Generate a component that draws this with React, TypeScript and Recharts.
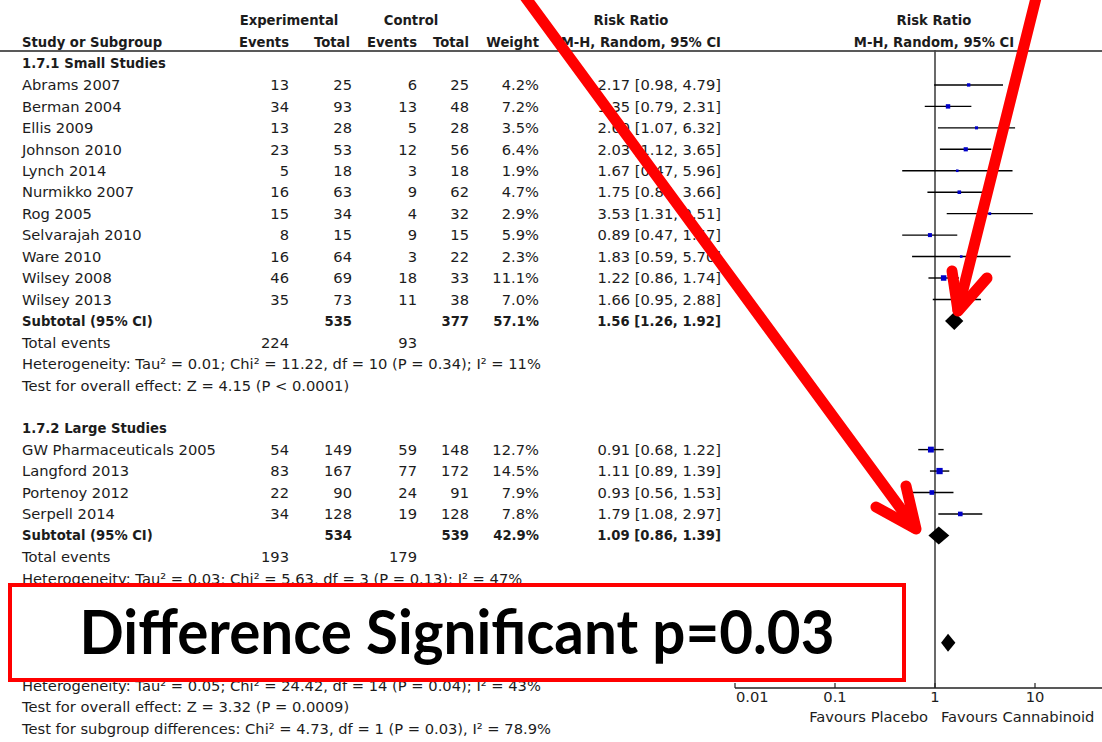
import React from "react";
import {
  ComposedChart,
  ErrorBar,
  ReferenceLine,
  Scatter,
  XAxis,
  YAxis,
} from "recharts";

// ---- study level data ----
const STUDIES = [
  "Abrams 2007",
  "Berman 2004",
  "Ellis 2009",
  "Johnson 2010",
  "Lynch 2014",
  "Nurmikko 2007",
  "Rog 2005",
  "Selvarajah 2010",
  "Ware 2010",
  "Wilsey 2008",
  "Wilsey 2013",
  "GW Pharmaceuticals 2005",
  "Langford 2013",
  "Portenoy 2012",
  "Serpell 2014",
];
const STUDY_GROUP = [0, 0, 0, 0, 0, 0, 0, 0, 0, 0, 0, 1, 1, 1, 1];
const EXP_EVENTS = [13, 34, 13, 23, 5, 16, 15, 8, 16, 46, 35, 54, 83, 22, 34];
const EXP_TOTAL = [25, 93, 28, 53, 18, 63, 34, 15, 64, 69, 73, 149, 167, 90, 128];
const CTRL_EVENTS = [6, 13, 5, 12, 3, 9, 4, 9, 3, 18, 11, 59, 77, 24, 19];
const CTRL_TOTAL = [25, 48, 28, 56, 18, 62, 32, 15, 22, 33, 38, 148, 172, 91, 128];
const WEIGHT = [4.2, 7.2, 3.5, 6.4, 1.9, 4.7, 2.9, 5.9, 2.3, 11.1, 7.0, 12.7, 14.5, 7.9, 7.8];
const RR = [2.17, 1.35, 2.6, 2.03, 1.67, 1.75, 3.53, 0.89, 1.83, 1.22, 1.66, 0.91, 1.11, 0.93, 1.79];
const RR_LO = [0.98, 0.79, 1.07, 1.12, 0.47, 0.84, 1.31, 0.47, 0.59, 0.86, 0.95, 0.68, 0.89, 0.56, 1.08];
const RR_HI = [4.79, 2.31, 6.32, 3.65, 5.96, 3.66, 9.51, 1.67, 5.7, 1.74, 2.88, 1.22, 1.39, 1.53, 2.97];

// ---- subgroup data ----
const GROUP_TITLES = ["1.7.1 Small Studies", "1.7.2 Large Studies"];
const SUB_EXP_TOTAL = [535, 534];
const SUB_CTRL_TOTAL = [377, 539];
const SUB_WEIGHT = [57.1, 42.9];
const SUB_RR = [1.56, 1.09];
const SUB_LO = [1.26, 0.86];
const SUB_HI = [1.92, 1.39];
const SUB_EXP_EVENTS = [224, 193];
const SUB_CTRL_EVENTS = [93, 179];
const SUB_HETEROGENEITY = [
  "Heterogeneity: Tau² = 0.01; Chi² = 11.22, df = 10 (P = 0.34); I² = 11%",
  "Heterogeneity: Tau² = 0.03; Chi² = 5.63, df = 3 (P = 0.13); I² = 47%",
];
const SUB_EFFECT = ["Test for overall effect: Z = 4.15 (P < 0.0001)", ""];

// overall pooled estimate: its text row sits under the callout box, so read from the diamond
const TOTAL_RR = 1.35;
const TOTAL_LO = 1.15;
const TOTAL_HI = 1.6;
const FOOTER_LINES = [
  "Heterogeneity: Tau² = 0.05; Chi² = 24.42, df = 14 (P = 0.04); I² = 43%",
  "Test for overall effect: Z = 3.32 (P = 0.0009)",
  "Test for subgroup differences: Chi² = 4.73, df = 1 (P = 0.03), I² = 78.9%",
];

const X_TICKS = [0.01, 0.1, 1, 10];
const X_DOMAIN: [number, number] = [0.01, 100];

// ---- layout ----
const W = 1102;
const H = 742;
const CHART_W = 1140; // plot runs past the right edge, as in the cropped original
const PLOT_LEFT = 735;
const PLOT_RIGHT = 1135;
const PLOT_TOP = 50;
const PLOT_BOTTOM = 688;
const AXIS_H = 30;
const ROW0 = 63.5;
const ROW_H = 21.45;
const PX_PER_DECADE =
  (PLOT_RIGHT - PLOT_LEFT) / Math.log10(X_DOMAIN[1] / X_DOMAIN[0]);
const Y_DOMAIN: [number, number] = [
  (PLOT_TOP - ROW0) / ROW_H,
  (PLOT_BOTTOM - ROW0) / ROW_H,
];

const FONT = "'DejaVu Sans', Verdana, sans-serif";
const FS = 14.7;
const FS_BOLD = 13.2;
const INK = "#1c1c1c";
const COL_RIGHT = [289, 352, 417, 469, 539];
const RR_RIGHT = 721;
const NAME_X = 22;

const rowY = (r: number) => ROW0 + r * ROW_H;
const fmt = (v: number) => v.toFixed(2);
const ciText = (m: number, lo: number, hi: number) =>
  `${fmt(m)} [${fmt(lo)}, ${fmt(hi)}]`;

interface Cell {
  x: number;
  text: string;
  anchor?: "start" | "middle" | "end";
  bold?: boolean;
}
interface TableRow {
  row: number;
  cells: Cell[];
}

function buildLayout() {
  const table: TableRow[] = [];
  const studyPoints: any[] = [];
  const diamondPoints: any[] = [];
  let r = 0;
  GROUP_TITLES.forEach((title, g) => {
    table.push({ row: r, cells: [{ x: NAME_X, text: title, bold: true }] });
    r++;
    STUDIES.forEach((name, i) => {
      if (STUDY_GROUP[i] !== g) return;
      table.push({
        row: r,
        cells: [
          { x: NAME_X, text: name },
          { x: COL_RIGHT[0], text: String(EXP_EVENTS[i]), anchor: "end" },
          { x: COL_RIGHT[1], text: String(EXP_TOTAL[i]), anchor: "end" },
          { x: COL_RIGHT[2], text: String(CTRL_EVENTS[i]), anchor: "end" },
          { x: COL_RIGHT[3], text: String(CTRL_TOTAL[i]), anchor: "end" },
          { x: COL_RIGHT[4], text: `${WEIGHT[i].toFixed(1)}%`, anchor: "end" },
          { x: RR_RIGHT, text: ciText(RR[i], RR_LO[i], RR_HI[i]), anchor: "end" },
        ],
      });
      studyPoints.push({
        rr: RR[i],
        row: r,
        err: [RR[i] - RR_LO[i], RR_HI[i] - RR[i]],
        size: Math.max(2.6, 1.65 * Math.sqrt(WEIGHT[i])),
      });
      r++;
    });
    table.push({
      row: r,
      cells: [
        { x: NAME_X, text: "Subtotal (95% CI)", bold: true },
        { x: COL_RIGHT[1], text: String(SUB_EXP_TOTAL[g]), anchor: "end", bold: true },
        { x: COL_RIGHT[3], text: String(SUB_CTRL_TOTAL[g]), anchor: "end", bold: true },
        { x: COL_RIGHT[4], text: `${SUB_WEIGHT[g].toFixed(1)}%`, anchor: "end", bold: true },
        { x: RR_RIGHT, text: ciText(SUB_RR[g], SUB_LO[g], SUB_HI[g]), anchor: "end", bold: true },
      ],
    });
    diamondPoints.push({ rr: SUB_RR[g], row: r, lo: SUB_LO[g], hi: SUB_HI[g] });
    r++;
    table.push({
      row: r,
      cells: [
        { x: NAME_X, text: "Total events" },
        { x: COL_RIGHT[0], text: String(SUB_EXP_EVENTS[g]), anchor: "end" },
        { x: COL_RIGHT[2], text: String(SUB_CTRL_EVENTS[g]), anchor: "end" },
      ],
    });
    r++;
    table.push({ row: r, cells: [{ x: NAME_X, text: SUB_HETEROGENEITY[g] }] });
    r++;
    if (SUB_EFFECT[g]) table.push({ row: r, cells: [{ x: NAME_X, text: SUB_EFFECT[g] }] });
    r += 2;
  });
  // overall row
  diamondPoints.push({ rr: TOTAL_RR, row: r, lo: TOTAL_LO, hi: TOTAL_HI });
  r += 2;
  FOOTER_LINES.forEach((line) => {
    table.push({ row: r, cells: [{ x: NAME_X, text: line }] });
    r++;
  });
  return { table, studyPoints, diamondPoints };
}

const { table, studyPoints, diamondPoints } = buildLayout();

const HEADER_CELLS: TableRow[] = [
  {
    row: -2,
    cells: [
      { x: 289, text: "Experimental", anchor: "middle", bold: true },
      { x: 411, text: "Control", anchor: "middle", bold: true },
      { x: 631, text: "Risk Ratio", anchor: "middle", bold: true },
      { x: 934, text: "Risk Ratio", anchor: "middle", bold: true },
    ],
  },
  {
    row: -1,
    cells: [
      { x: NAME_X, text: "Study or Subgroup", bold: true },
      { x: COL_RIGHT[0], text: "Events", anchor: "end", bold: true },
      { x: 350, text: "Total", anchor: "end", bold: true },
      { x: COL_RIGHT[2], text: "Events", anchor: "end", bold: true },
      { x: COL_RIGHT[3], text: "Total", anchor: "end", bold: true },
      { x: COL_RIGHT[4], text: "Weight", anchor: "end", bold: true },
      { x: RR_RIGHT, text: "M-H, Random, 95% CI", anchor: "end", bold: true },
      { x: 934, text: "M-H, Random, 95% CI", anchor: "middle", bold: true },
    ],
  },
];

function renderSquare(props: any) {
  const { cx, cy, payload } = props;
  const s = payload.size;
  return <rect x={cx - s / 2} y={cy - s / 2} width={s} height={s} fill="#0000c8" />;
}

function renderDiamond(props: any) {
  const { cx, cy, payload } = props;
  const left = cx - PX_PER_DECADE * Math.log10(payload.rr / payload.lo);
  const right = cx + PX_PER_DECADE * Math.log10(payload.hi / payload.rr);
  const h = 9;
  return (
    <polygon
      points={`${left},${cy} ${cx},${cy - h} ${right},${cy} ${cx},${cy + h}`}
      fill="#000"
    />
  );
}

// RevMan draws short ticks inward (upwards) and labels just under the axis
function AxisTick(props: any) {
  const { x, y, payload } = props;
  const first = payload.value === X_TICKS[0];
  return (
    <g>
      <line x1={x} x2={x} y1={y - 5} y2={y} stroke="#222" strokeWidth={1.2} />
      <text
        x={first ? x + 1 : x}
        y={y + 4}
        dy="0.71em"
        textAnchor={first ? "start" : "middle"}
        fontFamily={FONT}
        fontSize={FS}
        fill={INK}
      >
        {String(payload.value)}
      </text>
    </g>
  );
}

function TableText({ rows }: { rows: TableRow[] }) {
  return (
    <>
      {rows.map((tr) =>
        tr.cells.map((c, k) => (
          <text
            key={`${tr.row}-${k}`}
            x={c.x}
            y={rowY(tr.row)}
            dy="0.36em"
            textAnchor={c.anchor ?? "start"}
            fontWeight={c.bold ? 700 : 400}
            fontSize={c.bold ? FS_BOLD : FS}
          >
            {c.text}
          </text>
        ))
      )}
    </>
  );
}

export default function App() {
  return (
    <div style={{ position: "relative", width: W, height: H, overflow: "hidden", background: "#fff" }}>
      <style>{"body{margin:0}"}</style>
      <svg
        width={W}
        height={H}
        style={{ position: "absolute", left: 0, top: 0 }}
        fontFamily={FONT}
        fontSize={FS}
        fill={INK}
      >
        <TableText rows={HEADER_CELLS} />
        <line x1={0} x2={W} y1={51} y2={51} stroke="#222" strokeWidth={1.5} />
        <TableText rows={table} />
        <text x={928} y={717} dy="0.36em" textAnchor="end">Favours Placebo</text>
        <text x={941} y={717} dy="0.36em">Favours Cannabinoid</text>
      </svg>
      <div style={{ position: "absolute", left: 0, top: 0 }}>
        <ComposedChart
          width={CHART_W}
          height={H}
          margin={{
            top: PLOT_TOP,
            right: CHART_W - PLOT_RIGHT,
            bottom: H - PLOT_BOTTOM - AXIS_H,
            left: PLOT_LEFT,
          }}
        >
          <XAxis
            type="number"
            dataKey="rr"
            scale="log"
            domain={X_DOMAIN}
            ticks={X_TICKS}
            interval={0}
            allowDataOverflow
            height={AXIS_H}
            tickSize={0}
            tickMargin={0}
            tick={<AxisTick />}
            tickLine={false}
            axisLine={{ stroke: "#222", strokeWidth: 1.3 }}
          />
          <YAxis
            type="number"
            dataKey="row"
            domain={Y_DOMAIN}
            reversed
            hide
            allowDataOverflow
          />
          <ReferenceLine x={1} stroke="#444" strokeWidth={1.6} />
          <Scatter data={studyPoints} shape={renderSquare} isAnimationActive={false}>
            <ErrorBar
              dataKey="err"
              direction="x"
              width={0}
              stroke="#000"
              strokeWidth={1.4}
              isAnimationActive={false}
            />
          </Scatter>
          <Scatter data={diamondPoints} shape={renderDiamond} isAnimationActive={false} />
        </ComposedChart>
      </div>
      <svg
        width={W}
        height={H}
        style={{ position: "absolute", left: 0, top: 0, pointerEvents: "none" }}
      >
        <rect x={10} y={585} width={894} height={95} fill="#fff" stroke="#ff0000" strokeWidth={4} />
        <text
          x={457}
          y={654}
          textAnchor="middle"
          fontFamily="Lato, 'Open Sans', sans-serif"
          fontWeight={700}
          fontSize={62}
          textLength={755}
          lengthAdjust="spacingAndGlyphs"
          fill="#000"
        >
          Difference Significant p=0.03
        </text>
        <g stroke="#ff0000" strokeWidth={11} strokeLinecap="round" strokeLinejoin="round" fill="none">
          <line x1={520} y1={-10} x2={915} y2={528} />
          <polyline points="876,507 916,529 906,486" />
          <line x1={1038} y1={-10} x2={958} y2={310} />
          <polyline points="952,271 958,311 987,278" />
        </g>
      </svg>
    </div>
  );
}
